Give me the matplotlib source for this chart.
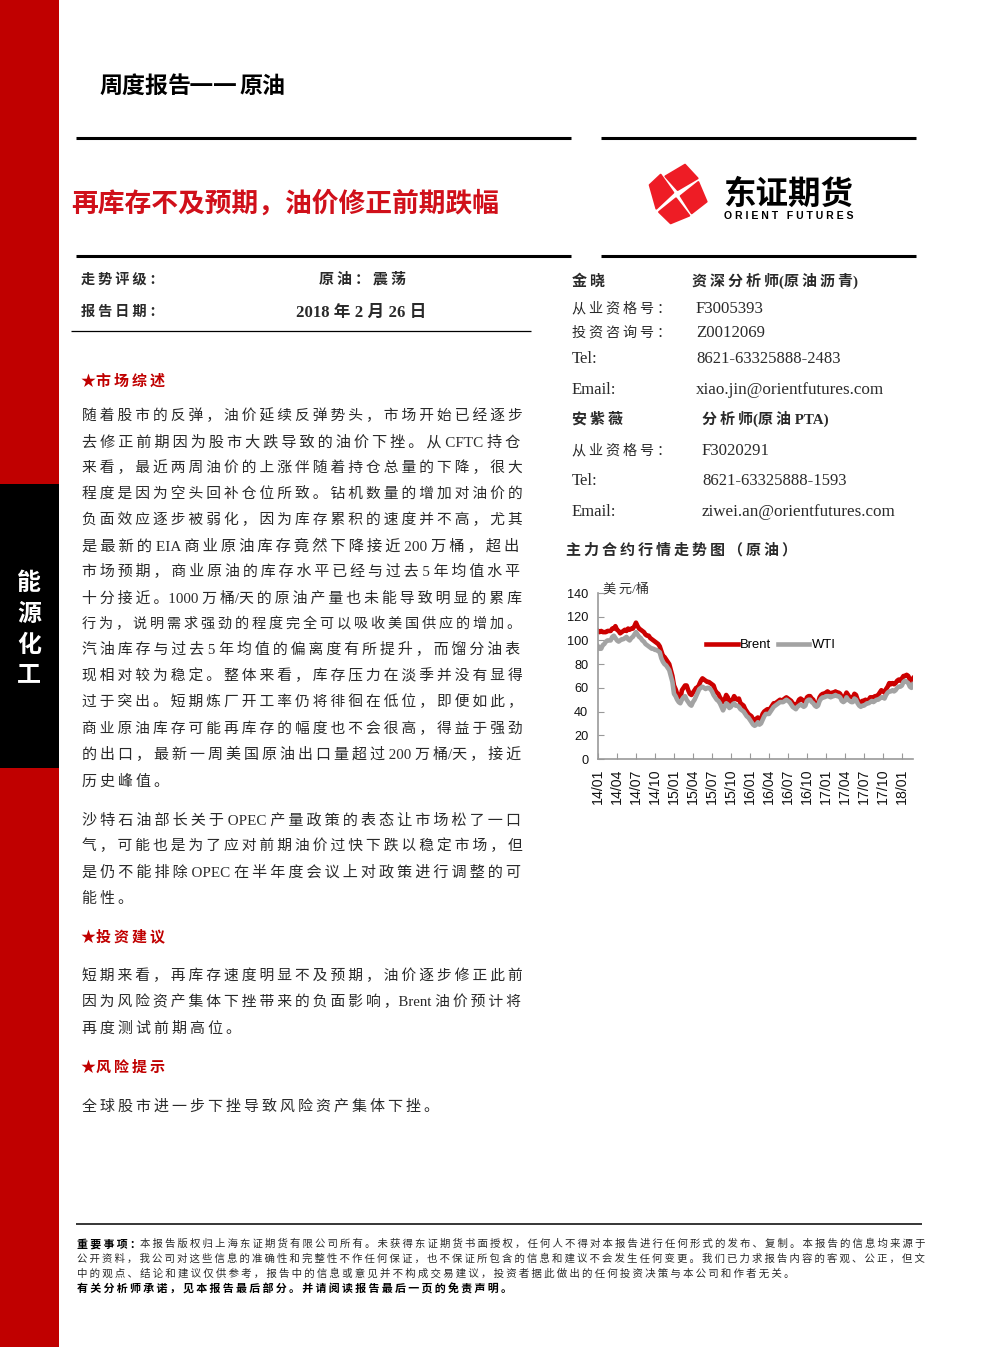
"""
Front page of a weekly crude report: text layout plus the Brent / WTI price chart.
Output: out.png
"""
import matplotlib
matplotlib.use("Agg")
import matplotlib.pyplot as plt
from matplotlib.patches import Polygon, Rectangle
from matplotlib.ticker import FixedLocator

SERIF = ["Liberation Serif", "Noto Sans CJK SC", "DejaVu Sans"]
CJK = ["Noto Sans CJK SC", "DejaVu Sans"]
ARIAL = ["Liberation Sans", "DejaVu Sans"]
W, H = 992, 1347
RED = "#C00000"
INK = "#2a2a2a"

# four readings per month since 2014/01
BRENT = [108, 107, 108, 107, 107, 107, 108, 108, 108, 110, 110, 112, 109, 108, 106, 107,
         108, 109, 108, 110, 109, 110, 110, 112, 115, 112, 110, 109, 108, 107, 105, 104,
         104, 102, 101, 100, 99, 98, 97, 95, 91, 87, 86, 84, 82, 80, 75, 70,
         62, 59, 55, 51, 50, 58, 60, 62, 62, 58, 55, 54, 56, 58, 60, 60,
         63, 66, 68, 67, 66, 65, 65, 64, 63, 62, 58, 56, 55, 52, 50, 48,
         50, 54, 52, 48, 48, 50, 53, 51, 50, 51, 47, 46, 45, 42, 40, 38,
         37, 36, 33, 32, 34, 35, 33, 34, 38, 40, 41, 42, 41, 43, 45, 47,
         47, 48, 49, 50, 49, 50, 51, 52, 51, 50, 49, 47, 46, 45, 47, 50,
         51, 50, 49, 48, 52, 53, 53, 51, 50, 46, 45, 47, 52, 54, 55, 55,
         56, 57, 56, 55, 56, 56, 57, 56, 56, 55, 52, 50, 53, 56, 54, 52,
         51, 52, 55, 54, 50, 48, 47, 49, 49, 50, 49, 50, 52, 52, 52, 53,
         53, 54, 56, 58, 57, 56, 59, 61, 64, 63, 64, 63, 64, 66, 67, 66,
         68, 70, 70, 71, 70, 67, 66, 68]
WTI = [95, 93, 93, 96, 97, 99, 100, 100, 100, 103, 104, 102, 100, 99, 100, 101,
       101, 102, 103, 101, 100, 102, 103, 105, 107, 105, 103, 102, 100, 99, 97, 96,
       95, 94, 93, 93, 92, 92, 91, 90, 85, 82, 80, 79, 77, 75, 70, 65,
       55, 53, 50, 48, 47, 50, 52, 53, 50, 48, 46, 45, 48, 50, 53, 56,
       59, 60, 61, 60, 59, 60, 60, 59, 57, 54, 52, 50, 49, 47, 44, 41,
       44, 47, 46, 43, 44, 46, 47, 45, 45, 44, 42, 41, 40, 38, 36, 35,
       33, 31, 29, 28, 29, 31, 29, 30, 33, 36, 38, 38, 38, 40, 42, 44,
       45, 46, 47, 48, 48, 48, 49, 50, 49, 48, 46, 44, 43, 42, 44, 45,
       46, 45, 44, 45, 49, 50, 50, 48, 47, 45, 44, 45, 49, 51, 52, 52,
       53, 53, 53, 52, 53, 53, 54, 53, 53, 52, 49, 48, 49, 52, 50, 49,
       48, 48, 51, 50, 47, 45, 44, 45, 45, 46, 47, 47, 48, 49, 48, 49,
       50, 50, 51, 52, 52, 51, 54, 56, 57, 57, 58, 57, 58, 60, 61, 61,
       62, 65, 66, 65, 64, 61, 60, 63]
MONTHS = [i / 4 for i in range(len(BRENT))]
QUARTER_LABELS = ["14/01", "14/04", "14/07", "14/10", "15/01", "15/04", "15/07", "15/10", "16/01",
                  "16/04", "16/07", "16/10", "17/01", "17/04", "17/07", "17/10", "18/01"]
QUARTER_TICKS = [3 * i for i in range(len(QUARTER_LABELS))]
Y_TICKS = [0, 20, 40, 60, 80, 100, 120, 140]

PARA_1 = ["随着股市的反弹，油价延续反弹势头，市场开始已经逐步",
          "去修正前期因为股市大跌导致的油价下挫。从 CFTC 持仓",
          "来看，最近两周油价的上涨伴随着持仓总量的下降，很大",
          "程度是因为空头回补仓位所致。钻机数量的增加对油价的",
          "负面效应逐步被弱化，因为库存累积的速度并不高，尤其",
          "是最新的 EIA 商业原油库存竟然下降接近 200 万桶，超出",
          "市场预期，商业原油的库存水平已经与过去 5 年均值水平",
          "十分接近。1000 万桶/天的原油产量也未能导致明显的累库",
          "行为，说明需求强劲的程度完全可以吸收美国供应的增加。",
          "汽油库存与过去 5 年均值的偏离度有所提升，而馏分油表",
          "现相对较为稳定。整体来看，库存压力在淡季并没有显得",
          "过于突出。短期炼厂开工率仍将徘徊在低位，即便如此，",
          "商业原油库存可能再库存的幅度也不会很高，得益于强劲",
          "的出口，最新一周美国原油出口量超过 200 万桶/天，接近"]
PARA_1_END = "历史峰值。"
PARA_2 = ["沙特石油部长关于 OPEC 产量政策的表态让市场松了一口",
          "气，可能也是为了应对前期油价过快下跌以稳定市场，但",
          "是仍不能排除 OPEC 在半年度会议上对政策进行调整的可"]
PARA_2_END = "能性。"
PARA_3 = ["短期来看，再库存速度明显不及预期，油价逐步修正此前",
          "因为风险资产集体下挫带来的负面影响，Brent 油价预计将"]
PARA_3_END = "再度测试前期高位。"
PARA_4_END = "全球股市进一步下挫导致风险资产集体下挫。"
FOOT_LEAD = "重要事项："
FOOT_1 = "本报告版权归上海东证期货有限公司所有。未获得东证期货书面授权，任何人不得对本报告进行任何形式的发布、复制。本报告的信息均来源于"
FOOT_2 = "公开资料，我公司对这些信息的准确性和完整性不作任何保证，也不保证所包含的信息和建议不会发生任何变更。我们已力求报告内容的客观、公正，但文"
FOOT_3 = "中的观点、结论和建议仅供参考，报告中的信息或意见并不构成交易建议，投资者据此做出的任何投资决策与本公司和作者无关。"
FOOT_4 = "有关分析师承诺，见本报告最后部分。并请阅读报告最后一页的免责声明。"


def is_cjk(c):
    return ord(c) > 0x2E80


def spaced(s):
    # thin space between CJK neighbours, the page is set with wide tracking
    out = ""
    for a, b in zip(s, s[1:] + " "):
        out += a
        if is_cjk(a) and is_cjk(b):
            out += "\u2009"
    return out


fig = plt.figure(figsize=(W / 100, H / 100), dpi=100, facecolor="white")
page = fig.add_axes([0, 0, 1, 1], zorder=0)
page.set_xlim(0, W)
page.set_ylim(H, 0)
page.axis("off")
renderer = fig.canvas.get_renderer()


def put(x, y, s, px=15, color=INK, bold=False, family=SERIF, track=True, **kw):
    # y is the middle of the CJK glyphs, baseline keeps mixed latin lines level
    return page.text(x, y + 0.38 * px, spaced(s) if track else s, fontsize=px * 0.72, color=color,
                     va="baseline", family=family, fontweight="bold" if bold else "normal", **kw)


def fit(x0, x1, y, s, px=14.5, **kw):
    t = put(x0, y, s, px=px, **kw)
    w = t.get_window_extent(renderer).width
    t.set_fontsize(t.get_fontsize() * (x1 - x0) / w)
    return t


def rule(x0, x1, y, lw):
    page.plot([x0, x1], [y, y], color="black", lw=lw, solid_capstyle="butt")


# side band
page.add_patch(Rectangle((0, 0), 59, H, color=RED, lw=0))
page.add_patch(Rectangle((0, 484), 59, 284, color="black", lw=0))
for y, c in zip([581, 612, 643, 672], "能源化工"):
    put(29, y, c, px=24, color="white", bold=True, family=CJK, ha="center")

# header
put(99, 84, "周度报告", px=23, color="black", bold=True, family=CJK, track=False)
put(189, 83, "——", px=27, color="black", bold=True, family=CJK, track=False)
put(240, 84, "原油", px=23, color="black", bold=True, family=CJK, track=False)
rule(76, 571, 138, 2.2)
rule(601, 916, 138, 2.2)
rule(76, 571, 256, 2.2)
rule(601, 916, 256, 2.2)
put(71, 201, "再库存不及预期，油价修正前期跌幅", px=26.8, color="#D0101A", bold=True, family=CJK, track=False)

# logo
for pts in [[(106, 79), (165, 44), (203, 85), (143, 120)],
            [(59, 105), (92, 74), (130, 128), (79, 176)],
            [(205, 96), (230, 155), (185, 190), (152, 138)],
            [(87, 186), (138, 145), (178, 197), (122, 220)]]:
    page.add_patch(Polygon([(630 + px / 3, 150 + py / 3) for px, py in pts], closed=True,
                           fc="#EE1C25", ec="#EE1C25", lw=1.4, joinstyle="round"))
put(723, 192, "东证期货", px=32.5, color="black", bold=True, family=CJK, track=False)
put(724, 215, " ".join("ORIENT") + "   " + " ".join("FUTURES"), px=10.5, color="black", bold=True, family=ARIAL, track=False)

# rating block
put(81, 278, "走势评级：", px=14.2, bold=True)
put(319, 278, "原油：震荡", bold=True)
put(81, 311, "报告日期：", px=14.2, bold=True)
put(296, 311, "2018 年 2 月 26 日", px=16.7, bold=True)
rule(71, 531, 331, 0.9)

# analysts
put(572, 280, "金晓", bold=True)
put(692, 280, "资深分析师(原油沥青)", bold=True)
put(572, 307, "从业资格号：", px=14.1)
put(696, 307, "F3005393", px=16.8)
put(572, 331, "投资咨询号：", px=14.1)
put(696, 331, "Z0012069", px=16.8)
put(572, 357, "Tel:", px=16.6)
put(696, 357, "8621-63325888-2483", px=16.6)
put(572, 388, "Email:", px=16.6)
put(696, 388, "xiao.jin@orientfutures.com", px=17)
put(572, 418, "安紫薇", bold=True)
put(702, 418, "分析师(原油 PTA)", bold=True)
put(572, 449, "从业资格号：", px=14.1)
put(702, 449, "F3020291", px=16.8)
put(572, 479, "Tel:", px=16.6)
put(702, 479, "8621-63325888-1593", px=16.6)
put(572, 510, "Email:", px=16.6)
put(702, 510, "ziwei.an@orientfutures.com", px=17)
put(566, 549, "主力合约行情走势图（原油）", bold=True)

# body
put(81, 380, "★市场综述", color=RED, bold=True)
for y, s in zip([415, 441, 467, 493, 519, 545, 571, 597, 623, 649, 675, 701, 728, 754], PARA_1):
    fit(82, 521, y, s)
put(82, 780, PARA_1_END)
for y, s in zip([819, 845, 871], PARA_2):
    fit(82, 521, y, s)
put(82, 897, PARA_2_END)
put(81, 936, "★投资建议", color=RED, bold=True)
for y, s in zip([975, 1001], PARA_3):
    fit(82, 521, y, s)
put(82, 1027, PARA_3_END)
put(81, 1066, "★风险提示", color=RED, bold=True)
put(82, 1105, PARA_4_END)

# footer
rule(76, 922, 1224, 1.1)
put(77, 1243, FOOT_LEAD, px=11, color="black", bold=True)
fit(140, 926, 1243, FOOT_1, px=10.5)
fit(77, 926, 1258, FOOT_2, px=10.5)
put(77, 1273, FOOT_3, px=10.5)
put(77, 1288, FOOT_4, px=11, color="black", bold=True)

# price chart
AX_L, AX_R, AX_T, AX_B = 598, 913, 593, 759
ax = fig.add_axes([AX_L / W, 1 - AX_B / H, (AX_R - AX_L) / W, (AX_B - AX_T) / H], zorder=2)
ax.patch.set_alpha(0)
ax.plot(MONTHS, BRENT, color="#CC0000", lw=3.3, solid_joinstyle="round", label="Brent")
ax.plot(MONTHS, WTI, color="#A3A3A3", lw=3.3, solid_joinstyle="round", label="WTI")
ax.set_xlim(0, 49.75)
ax.set_ylim(0, 140)
ax.xaxis.set_major_locator(FixedLocator(QUARTER_TICKS))
ax.set_xticklabels(QUARTER_LABELS, rotation=90, fontsize=10.2, family=ARIAL)
ax.yaxis.set_major_locator(FixedLocator(Y_TICKS))
ax.set_yticklabels([str(v) for v in Y_TICKS], fontsize=9.2, family=ARIAL)
ax.tick_params(axis="x", direction="in", length=4.5, width=0.8, color="#999999", pad=7, labelcolor="#111111")
ax.tick_params(axis="y", direction="in", length=4.5, width=0.8, color="#999999", pad=7, labelcolor="#111111")
for side in ("top", "right"):
    ax.spines[side].set_visible(False)
for side in ("left", "bottom"):
    ax.spines[side].set_color("#999999")
    ax.spines[side].set_linewidth(1.2)
leg = ax.legend(loc="center left", bbox_to_anchor=(0.323, 0.685), ncol=2, frameon=False, handlelength=2.4,
                handletextpad=0.2, columnspacing=0.5, borderpad=0, prop={"family": ARIAL, "size": 9.4})
put(603, 588, "美元/桶", px=13.2, color="#333333")

fig.savefig("out.png", dpi=100)
plt.close(fig)
